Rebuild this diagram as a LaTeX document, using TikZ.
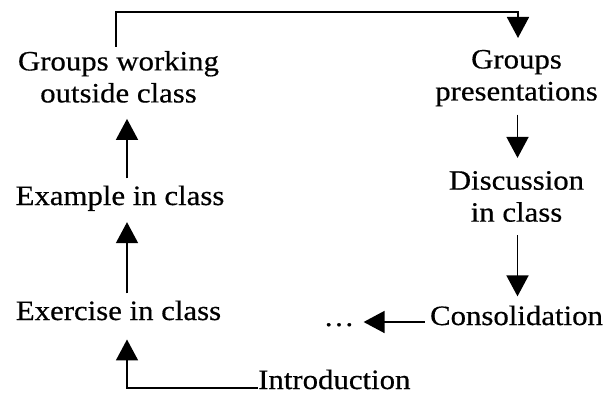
\documentclass[tikz,border=0pt]{standalone}
\usepackage{fontspec}
\setmainfont{Liberation Serif}[FakeStretch=1.1,FakeBold=0.5]
\usetikzlibrary{arrows.meta}
\begin{document}
\begin{tikzpicture}[x=1pt,y=-1pt,
  lbl/.style={inner sep=0pt, font=\fontsize{28}{32}\selectfont, align=center},
  arr/.style={line width=1.8pt, -{Triangle[width=22pt,length=21pt]}}]
\useasboundingbox[fill=white] (0,0) rectangle (607,396);
\node[lbl,anchor=north] (gw) at (118.5,50.8) {Groups working\\outside class};
\node[lbl,anchor=north] (gp) at (516.5,49.7) {Groups\\presentations};
\node[lbl,anchor=base] (eg) at (120,205) {Example in class};
\node[lbl,anchor=base] (ex) at (118.5,320) {Exercise in class};
\node[lbl,anchor=north] (disc) at (516.5,170.9) {Discussion\\in class};
\node[lbl,anchor=base] (cons) at (516.5,325) {Consolidation};
\node[lbl,anchor=base west] (intro) at (258,389) {Introduction};
\node[lbl,anchor=base] (dots) at (339,326) {\textellipsis};
% top connector
\draw[arr, shorten >=11.7pt] ([xshift=-2.5pt,yshift=4pt]gw.north) -- ++(0,-35) -| ([xshift=1.5pt]gp.north);
% right column
\draw[arr, shorten <=8pt, shorten >=13pt] ([xshift=1pt]gp.south) -- ([xshift=1pt]gp.south |- disc.north);
\draw[arr, shorten <=13pt, shorten >=9pt] ([xshift=1pt]disc.south) -- ([xshift=1pt]disc.south |- cons.north);
\draw[arr, shorten <=5pt, shorten >=9pt] ([yshift=3pt]cons.base west) -- ([yshift=3pt]cons.base west -| dots.east);
% left column
\draw[arr, shorten >=19pt] ([yshift=1pt]intro.base west) -| ([xshift=8.5pt]ex.south);
\draw[arr, shorten <=7pt, shorten >=11pt] ([xshift=8.5pt]ex.north) -- ([xshift=8.5pt]ex.north |- eg.south);
\draw[arr, shorten <=7pt, shorten >=16pt] ([xshift=8.5pt]ex.north |- eg.north) -- ([xshift=8.5pt]ex.north |- gw.south);
\end{tikzpicture}
\end{document}
